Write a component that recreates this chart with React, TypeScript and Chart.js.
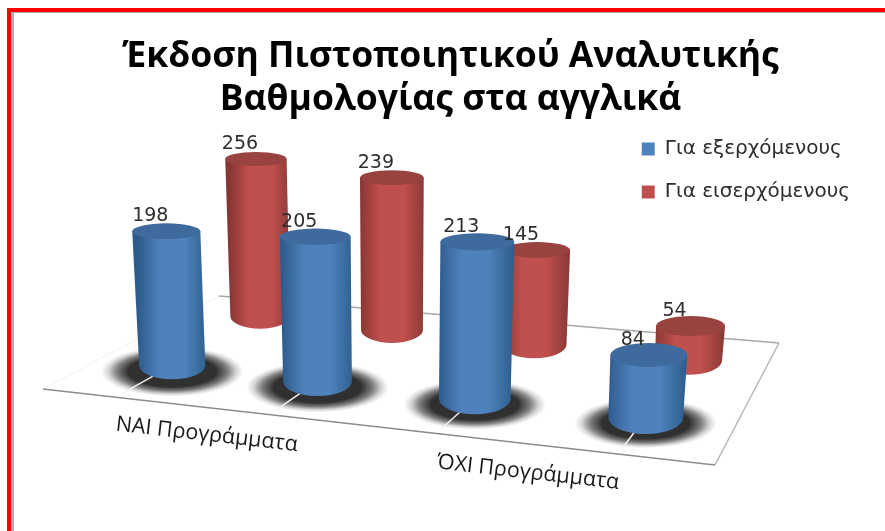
import React, { useEffect, useRef } from "react";
import { Chart, BarController, registerables } from "chart.js";

const categories = ["ΝΑΙ Προγράμματα", "", "ΌΧΙ Προγράμματα", ""];
const outgoing = [198, 205, 213, 84];
const incoming = [256, 239, 145, 54];
const seriesNames = ["Για εξερχόμενους", "Για εισερχόμενους"];
const titleLines = ["Έκδοση Πιστοποιητικού Αναλυτικής", "Βαθμολογίας στα αγγλικά"];

const BLUE = "#4f81bd";
const RED = "#c0504d";
const seriesDepth = [0.29, 0.82];
const shades = [
  { edge: "#2e5b8c", edge2: "#30608f", top: "#3f6a9d" },
  { edge: "#883634", edge2: "#8c3a38", top: "#994340" },
];

// floor corners of the 3D scene on the canvas: front-left, front-right, back-right, back-left
const P00 = [43, 389], P10 = [715, 465], P11 = [779, 343], P01 = [219, 296];
const dx1 = P10[0] - P11[0], dx2 = P01[0] - P11[0], sx = P00[0] - P10[0] + P11[0] - P01[0];
const dy1 = P10[1] - P11[1], dy2 = P01[1] - P11[1], sy = P00[1] - P10[1] + P11[1] - P01[1];
const den = dx1 * dy2 - dx2 * dy1;
const g = (sx * dy2 - dx2 * sy) / den;
const h = (dx1 * sy - sx * dy1) / den;
const a = P10[0] - P00[0] + g * P10[0], b = P01[0] - P00[0] + h * P01[0], c = P00[0];
const d = P10[1] - P00[1] + g * P10[1], e = P01[1] - P00[1] + h * P01[1], f = P00[1];
function project(u: number, v: number) {
  const w = g * u + h * v + 1;
  return { x: (a * u + b * v + c) / w, y: (d * u + e * v + f) / w, s: 1 / w };
}
const WALL = 217.5;
const SUNK = 3.5;
const RADIUS = 34.5;

function groundPoint(u: number, depth: number) {
  const v = depth * (1 - 0.1 * (u - 0.125));
  return project(u + 0.01 * v, v);
}

function barGeom(chart: any, el: any, ds: number) {
  const area = chart.chartArea;
  const u = (el.x - area.left) / area.width;
  const p = groundPoint(u, seriesDepth[ds]);
  const height = (((el.base - el.y) / area.height) * WALL - SUNK) * p.s;
  const lean = (p.x - 395) * 0.0002 * height;
  return { u, bx: p.x, by: p.y, tx: p.x + lean, ty: p.y - height, rx: RADIUS * p.s };
}

class CylinderController extends BarController {
  static id = "cylinder";
  static defaults = { ...(BarController as any).defaults };
  static overrides = (BarController as any).overrides;
  draw() {
    const self = this as any;
    const chart = self.chart;
    const ctx = chart.ctx;
    const ds = self._cachedMeta.index;
    const sh = shades[ds];
    const base = chart.data.datasets[ds].backgroundColor;
    self._cachedMeta.data.forEach((el: any) => {
      const q = barGeom(chart, el, ds);
      const trx = q.rx * 1.03;
      const try_ = trx * (0.23 + 0.0007 * Math.max(0, q.ty - 240));
      const bry = q.rx * (0.42 + 0.0006 * Math.max(0, q.by - 365));
      const grad = ctx.createLinearGradient(q.bx - trx, 0, q.bx + trx, 0);
      grad.addColorStop(0, sh.edge);
      grad.addColorStop(0.32, base);
      grad.addColorStop(0.68, base);
      grad.addColorStop(1, sh.edge2);
      ctx.beginPath();
      ctx.moveTo(q.tx - trx, q.ty);
      ctx.lineTo(q.bx - q.rx, q.by);
      ctx.ellipse(q.bx, q.by, q.rx, bry, 0, Math.PI, 0, true);
      ctx.lineTo(q.tx + trx, q.ty);
      ctx.closePath();
      ctx.fillStyle = grad;
      ctx.fill();
      ctx.beginPath();
      ctx.ellipse(q.tx, q.ty, trx, try_, 0, 0, Math.PI * 2);
      ctx.fillStyle = sh.top;
      ctx.fill();
    });
  }
}

const scenePlugin = {
  id: "scene",
  beforeDraw(chart: any) {
    const ctx = chart.ctx;
    ctx.save();
    ctx.fillStyle = "#ffffff";
    ctx.fillRect(0, 0, 885, 531);
    ctx.fillStyle = "#a9b0b4";
    ctx.fillRect(11, 12, 3, 519);
    ctx.fillRect(11, 12, 874, 1);
    ctx.fillStyle = "#ff0000";
    ctx.fillRect(7, 8, 878, 4);
    ctx.fillRect(7, 8, 4, 523);
    ctx.restore();
  },
  beforeDatasetsDraw(chart: any) {
    const ctx = chart.ctx;
    ctx.save();
    const line = (p: number[], q: number[], color: string, w: number) => {
      ctx.beginPath();
      ctx.moveTo(p[0], p[1]);
      ctx.lineTo(q[0], q[1]);
      ctx.strokeStyle = color;
      ctx.lineWidth = w;
      ctx.stroke();
    };
    line(P01, P00, "#f1f1f1", 1);
    line(P01, P11, "#a8a8a8", 1.5);
    line(P11, P10, "#b8b8b8", 1.5);
    line(P00, P10, "#8c8c8c", 1.5);
    chart.getDatasetMeta(0).data.forEach((el: any) => {
      const q = barGeom(chart, el, 0);
      ctx.save();
      ctx.translate(q.bx, q.by + 6);
      ctx.scale(71, 25);
      const rg = ctx.createRadialGradient(0, 0, 0, 0, 0, 1);
      rg.addColorStop(0, "rgba(48,48,48,1)");
      rg.addColorStop(0.62, "rgba(48,48,48,1)");
      rg.addColorStop(0.78, "rgba(48,48,48,0.62)");
      rg.addColorStop(0.9, "rgba(48,48,48,0.2)");
      rg.addColorStop(1, "rgba(48,48,48,0)");
      ctx.fillStyle = rg;
      ctx.beginPath();
      ctx.arc(0, 0, 1, 0, Math.PI * 2);
      ctx.fill();
      ctx.restore();
      const from = groundPoint(q.u, 0.035);
      line([from.x, from.y], [q.bx, q.by], "#f2f2f2", 1.5);
    });
    ctx.restore();
  },
  afterDatasetsDraw(chart: any) {
    const ctx = chart.ctx;
    ctx.save();
    ctx.font = '19px "DejaVu Sans"';
    ctx.fillStyle = "#2e2e2e";
    ctx.textAlign = "center";
    ctx.textBaseline = "middle";
    chart.data.datasets.forEach((set: any, ds: number) => {
      chart.getDatasetMeta(ds).data.forEach((el: any, i: number) => {
        const q = barGeom(chart, el, ds);
        ctx.fillText(String(set.data[i]), q.tx - 16, q.ty - 15);
      });
    });
    ctx.font = '21.5px "Open Sans"';
    ctx.fillStyle = "#1a1a1a";
    categories.forEach((label, i) => {
      if (!label) return;
      const u = (i + 1) / categories.length;
      const p = project(u, 0);
      ctx.save();
      ctx.translate(p.x + 16 - (u - 0.25) * 26, p.y + 29);
      ctx.rotate((6.5 * Math.PI) / 180);
      ctx.fillText(label, 0, 0);
      ctx.restore();
    });
    ctx.restore();
  },
};

Chart.register(...registerables, CylinderController as any);

export default function App() {
  const ref = useRef<HTMLCanvasElement | null>(null);
  useEffect(() => {
    const chart = new Chart(ref.current as any, {
      type: "cylinder" as any,
      data: {
        labels: categories,
        datasets: [
          { label: seriesNames[0], data: outgoing, backgroundColor: BLUE, clip: false as any, grouped: false },
          { label: seriesNames[1], data: incoming, backgroundColor: RED, clip: false as any, grouped: false },
        ],
      },
      options: {
        responsive: false,
        animation: false,
        layout: { padding: { left: 41, right: 25 } },
        scales: {
          x: { type: "category", display: false, offset: true },
          y: { type: "linear", display: false, min: 0, max: 300 },
        },
        plugins: {
          tooltip: { enabled: false },
          title: {
            display: true,
            text: titleLines,
            color: "#000000",
            font: { family: '"Open Sans"', size: 35.5, weight: "bold", lineHeight: 1.21 },
            padding: { top: 35, bottom: -5 },
          },
          legend: {
            position: "right",
            align: "start",
            fullSize: false,
            labels: {
              boxWidth: 13,
              boxHeight: 13,
              padding: 23,
              color: "#2e2e2e",
              font: { family: '"DejaVu Sans"', size: 20 },
            },
          },
        },
      } as any,
      plugins: [scenePlugin as any],
    });
    return () => chart.destroy();
  }, []);
  return (
    <div style={{ position: "fixed", left: 0, top: 0, width: 885, height: 531, background: "#fff" }}>
      <canvas ref={ref} width={885} height={531} style={{ display: "block" }} />
    </div>
  );
}
